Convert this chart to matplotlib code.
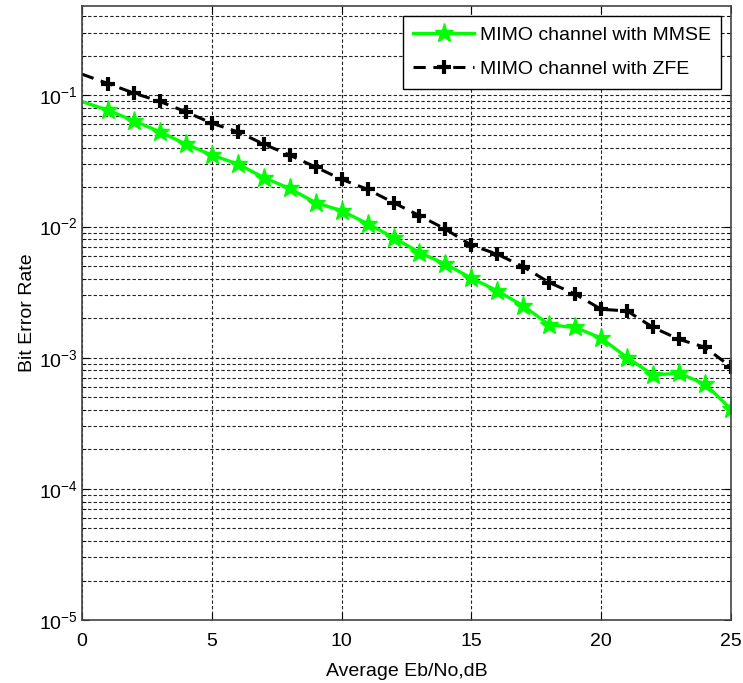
import matplotlib
matplotlib.use("Agg")
import matplotlib.pyplot as plt
from matplotlib.ticker import LogLocator, NullFormatter, FixedLocator

plt.rcParams['font.family'] = ['Liberation Sans', 'DejaVu Sans']
plt.rcParams['mathtext.fontset'] = 'custom'
plt.rcParams['mathtext.rm'] = 'Liberation Sans'
plt.rcParams['axes.unicode_minus'] = False

snr_db = list(range(0, 26))
ber_mmse = [0.0897, 0.077, 0.064, 0.0527, 0.0425, 0.035, 0.030, 0.0236, 0.0195,
            0.0152, 0.0132, 0.0105, 0.00824, 0.00633, 0.00517, 0.00404, 0.00323,
            0.00248, 0.00178, 0.00170, 0.00141, 0.00100, 0.00074, 0.00076,
            0.00063, 0.000405]
ber_zfe = [0.145, 0.123, 0.104, 0.0898, 0.0749, 0.0613, 0.0527, 0.0425, 0.035,
           0.0284, 0.0229, 0.0192, 0.0152, 0.0121, 0.00955, 0.0072, 0.00615,
           0.00493, 0.00374, 0.00305, 0.00234, 0.00227, 0.0017, 0.00138,
           0.0012, 0.00085]
x_ticks = [0, 5, 10, 15, 20, 25]
labels = ["MIMO channel with MMSE", "MIMO channel with ZFE"]

fig = plt.figure(figsize=(7.43, 6.83), dpi=100)
ax = fig.add_axes([82/743, 63/683, 649/743, 614/683])

ax.semilogy(snr_db, ber_mmse, '-', color='#00ff00', lw=2.4, marker='*',
            markersize=14, markevery=slice(1, None), label=labels[0])
ax.semilogy(snr_db, ber_zfe, '--', color='black', lw=2.2, dashes=(4, 2.5),
            marker='+', markersize=10, mew=3, markevery=slice(1, None),
            label=labels[1])

ax.set_xlim(0, 25)
ax.set_ylim(1e-5, 0.48)
ax.xaxis.set_major_locator(FixedLocator(x_ticks))
ax.yaxis.set_major_locator(LogLocator(base=10, numticks=10))
ax.yaxis.set_minor_locator(LogLocator(base=10, subs=range(2, 10), numticks=20))
ax.yaxis.set_minor_formatter(NullFormatter())

gkw = dict(color='#222222', linestyle=(0, (3, 2)), linewidth=0.8)
ax.grid(True, which='major', axis='both', **gkw)
ax.grid(True, which='minor', axis='y', **gkw)

ax.tick_params(which='both', direction='in', top=True, right=True,
               labelsize=14, colors='black')
ax.tick_params(which='major', length=5)
ax.tick_params(which='minor', length=3)
ax.tick_params(axis='x', which='major', pad=9)
ax.tick_params(axis='y', which='major', pad=3)
for s in ax.spines.values():
    s.set_color('#444444')
    s.set_linewidth(1.2)

ax.set_xlabel('Average Eb/No,dB', fontsize=14, labelpad=10)
ax.set_ylabel('Bit Error Rate', fontsize=14, labelpad=2)

leg = ax.legend(loc='upper right', fontsize=14, frameon=True, fancybox=False,
                edgecolor='black', framealpha=1, handlelength=3.1,
                handletextpad=0.3, borderpad=0.55, labelspacing=0.85,
                borderaxespad=0.5)
leg.get_frame().set_linewidth(1.0)

fig.savefig('out.png', dpi=100)
